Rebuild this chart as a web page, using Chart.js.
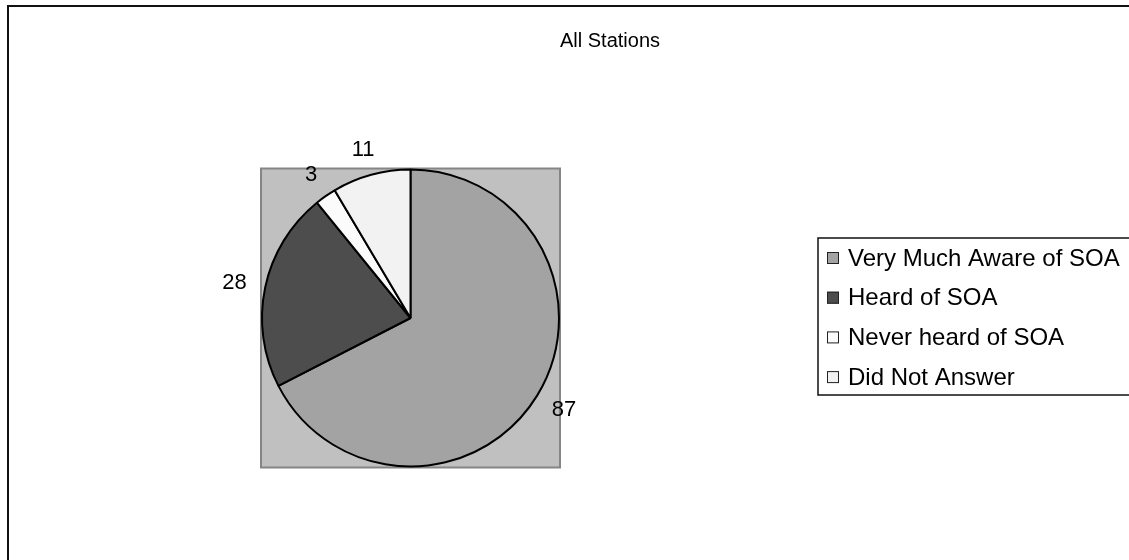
<!DOCTYPE html>
<html>
<head>
<meta charset="utf-8">
<script src="https://cdn.jsdelivr.net/npm/chart.js@4/dist/chart.umd.min.js"></script>
<style>
  html, body { margin: 0; padding: 0; background: #fff; }
  #wrap { position: relative; width: 1129px; height: 560px; }
</style>
</head>
<body>
<div id="wrap"><canvas id="pie"></canvas></div>
<script>
// Survey responses, all stations combined
const categories = ["Very Much Aware of SOA", "Heard of SOA", "Never heard of SOA", "Did Not Answer"];
const responses = [87, 28, 3, 11];
const sliceColors = ["#a3a3a3", "#4d4d4d", "#fbfbfb", "#f2f2f2"];
const chartTitle = "All Stations";

const FONT = '"Liberation Sans", Arial, sans-serif';

// Outer frame, grey plot square behind the pie, title
const framePlugin = {
  id: 'frame',
  beforeDatasetsDraw(chart) {
    const ctx = chart.ctx;
    const arc = chart.getDatasetMeta(0).data[0];
    const r = arc.outerRadius + 1;
    ctx.save();
    ctx.fillStyle = '#c0c0c0';
    ctx.fillRect(arc.x - r, arc.y - r, 2 * r, 2 * r);
    ctx.strokeStyle = '#858585';
    ctx.lineWidth = 2;
    ctx.strokeRect(arc.x - r, arc.y - r, 2 * r, 2 * r);
    ctx.restore();
  },
  afterDraw(chart) {
    const ctx = chart.ctx;
    ctx.save();
    ctx.strokeStyle = '#111';
    ctx.lineWidth = 2;
    ctx.strokeRect(8, 6, 1300, 700);
    ctx.fillStyle = '#000';
    ctx.font = '20px ' + FONT;
    ctx.textAlign = 'center';
    ctx.textBaseline = 'middle';
    ctx.fillText(chartTitle, 610, 41);
    ctx.restore();
  }
};

// Value labels just outside each slice: the text box is pushed out
// along the slice's mid angle so its near side sits a fixed gap off the rim
const valueLabels = {
  id: 'valueLabels',
  afterDatasetsDraw(chart) {
    const ctx = chart.ctx;
    const meta = chart.getDatasetMeta(0);
    const values = chart.data.datasets[0].data;
    ctx.save();
    ctx.fillStyle = '#000';
    ctx.font = '22px ' + FONT;
    ctx.textAlign = 'center';
    ctx.textBaseline = 'middle';
    const gap = 19, h = 16;
    meta.data.forEach((arc, i) => {
      const txt = String(values[i]);
      const w = ctx.measureText(txt).width;
      const mid = (arc.startAngle + arc.endAngle) / 2;
      const c = Math.cos(mid), s = Math.sin(mid);
      const d = arc.outerRadius + gap;
      const x = arc.x + c * d + c * w / 2;
      const y = arc.y + s * d + s * h / 2;
      ctx.fillText(txt, x, y + 1);
    });
    ctx.restore();
  }
};

// Boxed legend on the right
const boxLegend = {
  id: 'boxLegend',
  afterDraw(chart) {
    const ctx = chart.ctx;
    const labels = chart.data.labels;
    const colors = chart.data.datasets[0].backgroundColor;
    const left = 818, top = 238, height = 157;
    ctx.save();
    ctx.fillStyle = '#fff';
    ctx.fillRect(left, top, 400, height);
    ctx.strokeStyle = '#111';
    ctx.lineWidth = 1.5;
    ctx.strokeRect(left, top, 400, height);
    ctx.font = '24px ' + FONT;
    ctx.textBaseline = 'middle';
    ctx.textAlign = 'left';
    labels.forEach((lab, i) => {
      const cy = top + 20 + i * 39.7;
      ctx.fillStyle = colors[i];
      ctx.fillRect(827, cy - 6, 12, 12);
      ctx.strokeStyle = '#222';
      ctx.lineWidth = 1;
      ctx.strokeRect(827.5, cy - 5.5, 11, 11);
      ctx.fillStyle = '#000';
      ctx.fillText(lab, 848, cy + 1);
    });
    ctx.restore();
  }
};

new Chart(document.getElementById('pie'), {
  type: 'pie',
  data: {
    labels: categories,
    datasets: [{
      data: responses,
      backgroundColor: sliceColors,
      borderColor: '#000',
      borderWidth: 2
    }]
  },
  options: {
    responsive: true,
    maintainAspectRatio: false,
    animation: false,
    layout: { padding: { left: 261, right: 569, top: 168, bottom: 92 } },
    plugins: {
      legend: { display: false },
      title: { display: false },
      tooltip: { enabled: false }
    }
  },
  plugins: [framePlugin, valueLabels, boxLegend]
});
</script>
</body>
</html>
